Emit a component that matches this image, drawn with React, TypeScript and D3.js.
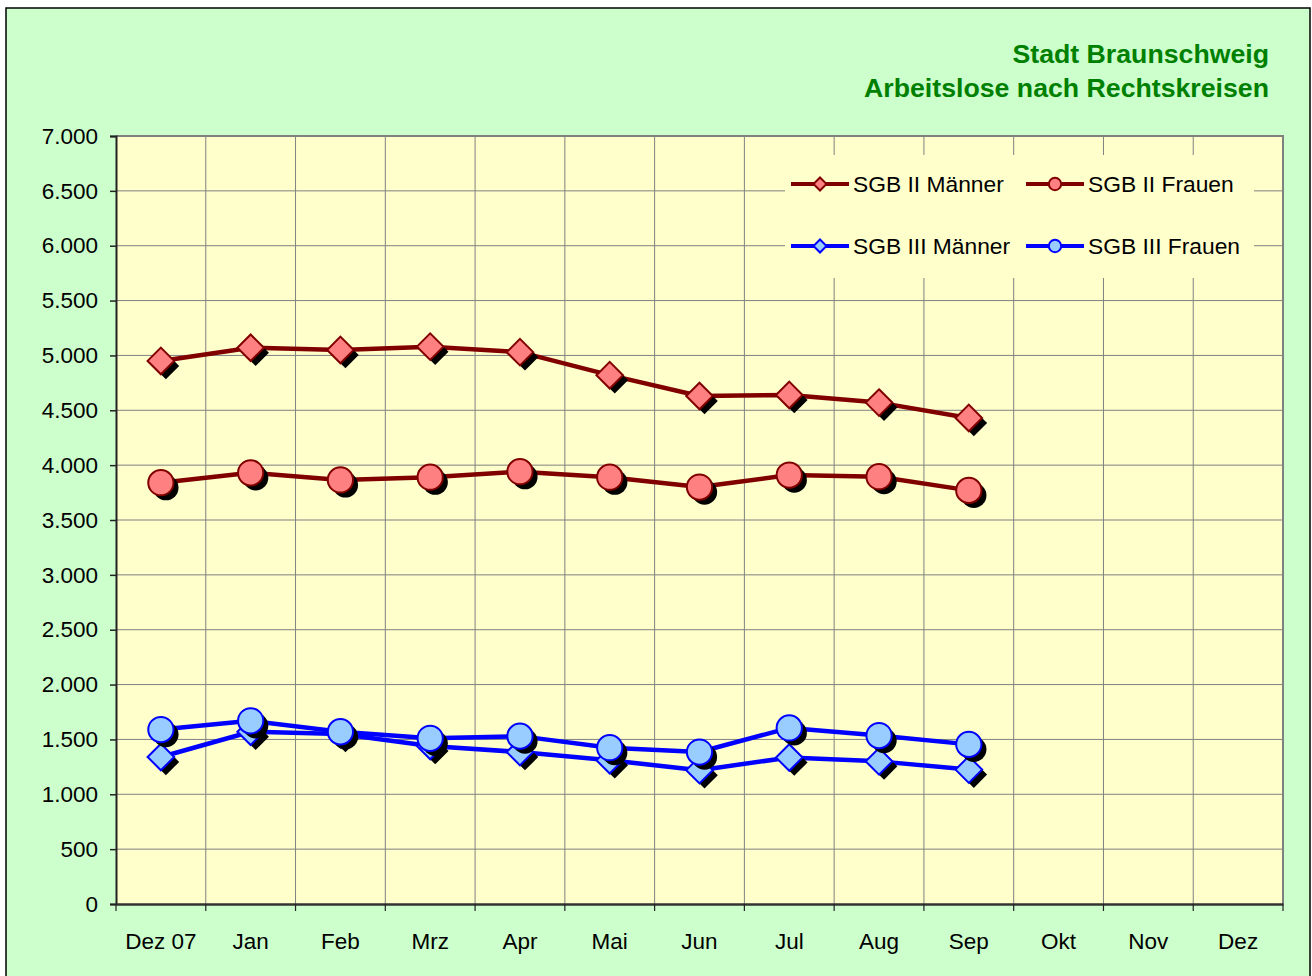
import React, { useEffect, useRef } from 'react';
import * as d3 from 'd3';

const months = ['Dez 07', 'Jan', 'Feb', 'Mrz', 'Apr', 'Mai', 'Jun', 'Jul', 'Aug', 'Sep', 'Okt', 'Nov', 'Dez'];
const yTicks = [0, 500, 1000, 1500, 2000, 2500, 3000, 3500, 4000, 4500, 5000, 5500, 6000, 6500, 7000];

const sgb2Maenner = [4950, 5070, 5050, 5080, 5030, 4820, 4630, 4640, 4570, 4430];
const sgb2Frauen = [3840, 3930, 3865, 3890, 3940, 3890, 3800, 3910, 3895, 3770];
const sgb3Maenner = [1340, 1570, 1550, 1440, 1385, 1310, 1220, 1335, 1300, 1225];
const sgb3Frauen = [1590, 1670, 1570, 1510, 1530, 1425, 1385, 1605, 1535, 1455];

const titleLines = ['Stadt Braunschweig', 'Arbeitslose nach Rechtskreisen'];

const FONT = '"Liberation Sans", Arial, sans-serif';

const App = () => {
    const svgRef = useRef<SVGSVGElement>(null);

    useEffect(() => {
        const svg = d3.select(svgRef.current);
        svg.selectAll('*').remove();

        const H = 976;
        const plot = { left: 116, top: 136, right: 1283, bottom: 904 };

        // background frame
        svg.append('rect')
            .attr('x', 6).attr('y', 8)
            .attr('width', 1304).attr('height', H + 20)
            .attr('fill', '#CCFFCC')
            .attr('stroke', '#000').attr('stroke-width', 1.5);

        const x = d3.scaleBand().domain(months).range([plot.left, plot.right]);
        const y = d3.scaleLinear().domain([0, 7000]).range([plot.bottom, plot.top]);

        // plot area
        svg.append('rect')
            .attr('x', plot.left).attr('y', plot.top)
            .attr('width', plot.right - plot.left).attr('height', plot.bottom - plot.top)
            .attr('fill', '#FFFFCC');

        // grid lines
        const grid = svg.append('g').attr('stroke', '#808080').attr('stroke-width', 1);
        yTicks.slice(1).forEach(t => {
            grid.append('line')
                .attr('x1', plot.left).attr('x2', plot.right)
                .attr('y1', y(t)).attr('y2', y(t));
        });
        months.slice(1).forEach(m => {
            grid.append('line')
                .attr('x1', x(m)!).attr('x2', x(m)!)
                .attr('y1', plot.top).attr('y2', plot.bottom);
        });

        // top/right border of plot
        svg.append('path')
            .attr('d', `M${plot.left},${plot.top}H${plot.right}V${plot.bottom}`)
            .attr('fill', 'none').attr('stroke', '#808080').attr('stroke-width', 2);

        // y axis
        const yAxis = svg.append('g')
            .attr('transform', `translate(${plot.left},0)`)
            .call(d3.axisLeft(y).tickValues(yTicks).tickSize(6).tickPadding(12)
                .tickFormat(d => d3.format(',')(d as number).replace(/,/g, '.')));
        yAxis.select('.domain').attr('stroke', '#222').attr('stroke-width', 2);
        yAxis.selectAll('.tick line').attr('stroke', '#222').attr('stroke-width', 1.5);
        yAxis.selectAll('text').attr('font-family', FONT).attr('font-size', 22.5).attr('fill', '#000');

        // x axis
        const xAxis = svg.append('g')
            .attr('transform', `translate(0,${plot.bottom})`)
            .call(d3.axisBottom(x).tickSize(0).tickPadding(29));
        xAxis.select('.domain').attr('stroke', '#333').attr('stroke-width', 2.5);
        xAxis.selectAll('text').attr('font-family', FONT).attr('font-size', 22.5).attr('fill', '#000');
        const bounds = [...months.map(m => x(m)!), plot.right];
        svg.append('g').selectAll('line').data(bounds).enter().append('line')
            .attr('x1', d => d).attr('x2', d => d)
            .attr('y1', plot.bottom).attr('y2', plot.bottom + 7)
            .attr('stroke', '#222').attr('stroke-width', 1.2);

        const cx = (i: number) => x(months[i])! + x.bandwidth() / 2;

        const series = [
            { name: 'SGB II Männer', values: sgb2Maenner, color: '#800000', fill: '#FF8080', shape: 'diamond' },
            { name: 'SGB II Frauen', values: sgb2Frauen, color: '#800000', fill: '#FF8080', shape: 'circle' },
            { name: 'SGB III Männer', values: sgb3Maenner, color: '#0000FF', fill: '#99CCFF', shape: 'diamond' },
            { name: 'SGB III Frauen', values: sgb3Frauen, color: '#0000FF', fill: '#99CCFF', shape: 'circle' },
        ];

        const marker = (g: any, shape: string, px: number, py: number, size: number) => {
            if (shape === 'diamond') {
                return g.append('path')
                    .attr('d', `M${px},${py - size}L${px + size},${py}L${px},${py + size}L${px - size},${py}Z`);
            }
            return g.append('circle').attr('cx', px).attr('cy', py).attr('r', size * 0.95);
        };

        const line = d3.line<number>().x((d, i) => cx(i)).y(d => y(d));

        series.forEach(s => {
            const g = svg.append('g');
            g.append('path')
                .datum(s.values)
                .attr('fill', 'none')
                .attr('stroke', s.color)
                .attr('stroke-width', 4.5)
                .attr('stroke-linejoin', 'round')
                .attr('d', line);
            s.values.forEach((v, i) => {
                marker(g, s.shape, cx(i) + 5, y(v) + 5, 13.3).attr('fill', '#000');
            });
            s.values.forEach((v, i) => {
                marker(g, s.shape, cx(i), y(v), 13.3)
                    .attr('fill', s.fill).attr('stroke', s.color).attr('stroke-width', 2);
            });
        });

        // legend
        const legend = svg.append('g');
        legend.append('rect')
            .attr('x', 785).attr('y', 155).attr('width', 469).attr('height', 123)
            .attr('fill', '#FFFFCC');
        const legendPos = [[791, 184], [1026, 184], [791, 246], [1026, 246]];
        series.forEach((s, i) => {
            const [lx, ly] = legendPos[i];
            legend.append('line')
                .attr('x1', lx).attr('x2', lx + 58).attr('y1', ly).attr('y2', ly)
                .attr('stroke', s.color).attr('stroke-width', 4);
            marker(legend, s.shape, lx + 29, ly, 6.5)
                .attr('fill', s.fill).attr('stroke', s.color).attr('stroke-width', 2);
            legend.append('text')
                .attr('x', lx + 62).attr('y', ly + 8)
                .attr('font-family', FONT).attr('font-size', 22.8)
                .text(s.name);
        });

        // title
        svg.append('g').selectAll('text').data(titleLines).enter().append('text')
            .attr('x', 1269).attr('y', (d, i) => 63 + i * 34)
            .attr('text-anchor', 'end')
            .attr('font-family', FONT).attr('font-size', 26.7).attr('font-weight', 'bold')
            .attr('fill', '#008000')
            .text(d => d);
    }, []);

    return (
        <svg ref={svgRef} width={1312} height={976}
            style={{ position: 'absolute', left: 0, top: 0, display: 'block' }} />
    );
};

export default App;
